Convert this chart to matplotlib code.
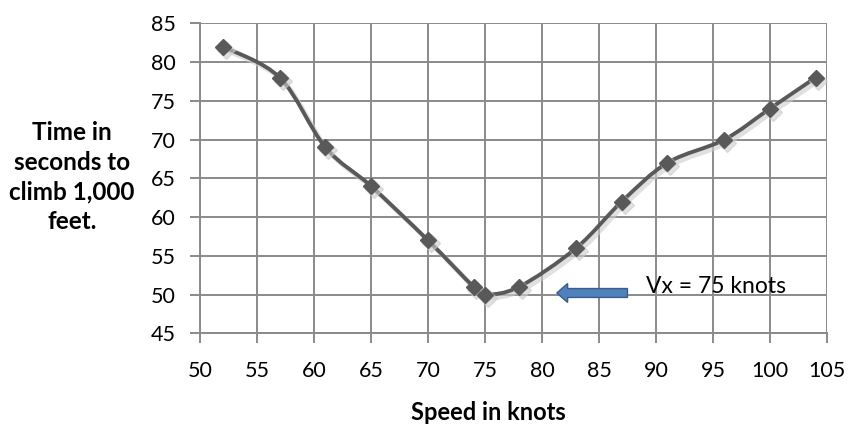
import numpy as np
import matplotlib.pyplot as plt
from matplotlib.path import Path
from matplotlib.patches import PathPatch, FancyArrow

plt.rcParams['font.family'] = ['Lato', 'DejaVu Sans']

speed = [52, 57, 61, 65, 70, 74, 75, 78, 83, 87, 91, 96, 100, 104]
climb_time = [82, 78, 69, 64, 57, 51, 50, 51, 56, 62, 67, 70, 74, 78]
x_ticks = np.arange(50, 106, 5)
y_ticks = np.arange(45, 86, 5)


def smooth_path(xs, ys, t=1 / 6):
    # Catmull-Rom style bezier segments, like a spreadsheet "smoothed line"
    pts = np.column_stack([xs, ys]).astype(float)
    verts = [pts[0]]
    codes = [Path.MOVETO]
    n = len(pts)
    for i in range(n - 1):
        p0 = pts[i - 1] if i > 0 else pts[i]
        p1 = pts[i]
        p2 = pts[i + 1]
        p3 = pts[i + 2] if i + 2 < n else pts[i + 1]
        c1 = p1 + (p2 - p0) * t
        c2 = p2 - (p3 - p1) * t
        verts += [c1, c2, p2]
        codes += [Path.CURVE4] * 3
    return Path(verts, codes)


fig = plt.figure(figsize=(8.56, 4.32), dpi=100)
ax = fig.add_axes([0.2336, 0.2285, 0.7325, 0.7175])

ax.set_xlim(50, 105)
ax.set_ylim(45, 85)
ax.set_xticks(x_ticks)
ax.set_yticks(y_ticks)
ax.grid(True, color='#8a8a8a', linewidth=1.4)
ax.set_axisbelow(True)
for side in ['top', 'right']:
    ax.spines[side].set_visible(False)
for side in ['left', 'bottom']:
    ax.spines[side].set_color('#8a8a8a')
    ax.spines[side].set_linewidth(1.4)
ax.tick_params(axis='both', colors='#8a8a8a', width=1.4, length=7.2,
               labelcolor='black', labelsize=15.5)
ax.tick_params(axis='y', pad=10)
ax.tick_params(axis='x', pad=13)

# soft shadow under the curve
sx = np.array(speed) + 0.25
sy = np.array(climb_time) - 0.4
ax.add_patch(PathPatch(smooth_path(sx, sy), fill=False, edgecolor='#cccccc',
                       linewidth=3.5, alpha=0.6))
ax.plot(sx, sy, linestyle='none', marker='D', markersize=9, color='#cccccc', alpha=0.6)

curve = smooth_path(speed, climb_time)
ax.add_patch(PathPatch(curve, fill=False, edgecolor='#595959', linewidth=2.8))
ax.plot(speed, climb_time, linestyle='none', marker='D', markersize=8.5,
        color='#595959')

ax.add_patch(FancyArrow(87.5, 50.2, -6.2, 0, width=1.15, head_width=2.45,
                        head_length=0.95, length_includes_head=True,
                        facecolor='#4f81bd', edgecolor='#385d8a', linewidth=1))
ax.text(89.1, 51.0, 'Vx = 75 knots', fontsize=16.5, va='center', ha='left')

fig.text(0.571, 0.044, 'Speed in knots', fontsize=17, fontweight='bold',
         ha='center', va='center')
fig.text(0.084, 0.590, 'Time in\nseconds to\nclimb 1,000\nfeet.', fontsize=17.5,
         fontweight='bold', ha='center', va='center', linespacing=1.36)

fig.savefig('out.png', dpi=100)
